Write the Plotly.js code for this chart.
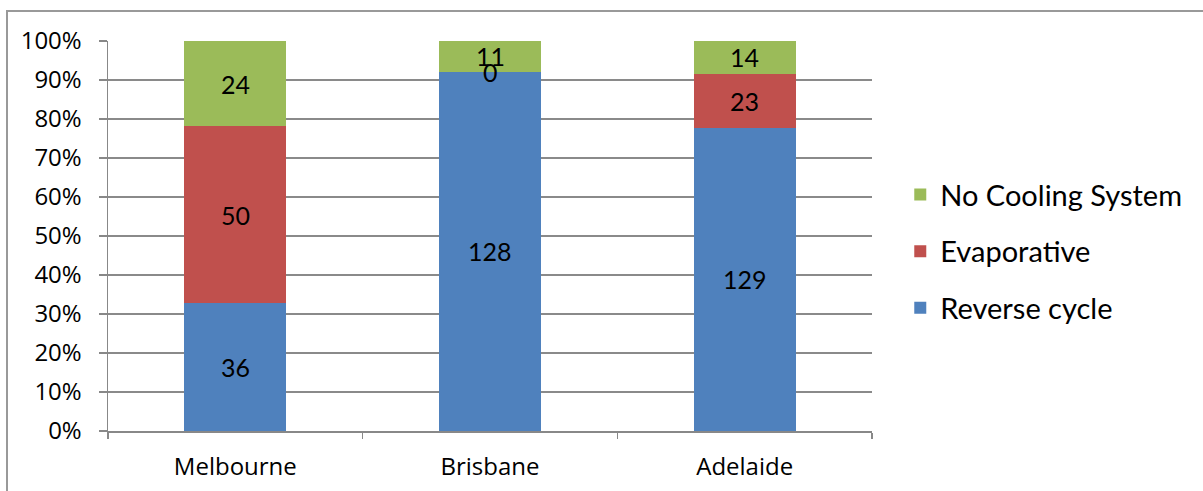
<!DOCTYPE html>
<html><head><meta charset="utf-8">
<script src="https://cdn.plot.ly/plotly-3.0.1.min.js"></script>
<style>
html,body{margin:0;padding:0;background:#fff;}
#frame{position:absolute;left:6px;top:10px;width:1300px;height:600px;border-left:2px solid #999;border-top:2px solid #999;}
#chart{position:absolute;left:0;top:0;width:1203px;height:491px;}
</style></head>
<body>
<div id="frame"></div>
<div id="chart"></div>
<script>
const cities = ["Melbourne", "Brisbane", "Adelaide"];
const reverseCycle = [36, 128, 129];
const evaporative = [50, 0, 23];
const noCooling = [24, 11, 14];
const seriesNames = ["Reverse cycle", "Evaporative", "No Cooling System"];
const seriesColors = ["#4F81BD", "#C0504D", "#9BBB59"];
const yTicks = [0,10,20,30,40,50,60,70,80,90,100];

const series = [reverseCycle, evaporative, noCooling];
const traces = series.map((vals, i) => ({
  type: "bar", x: cities, y: vals, name: seriesNames[i],
  marker: {color: seriesColors[i], line: {width: 0}},
  legendgroup: "g" + i, legendrank: 3 - i, hoverinfo: "skip"
}));

const totals = cities.map((c, j) => series.reduce((s, v) => s + v[j], 0));
const annotations = [];
cities.forEach((c, j) => {
  let cum = 0;
  series.forEach((vals) => {
    const share = vals[j] / totals[j] * 100;
    annotations.push({x: c, y: cum + share / 2, text: String(vals[j]), showarrow: false,
      xref: "x", yref: "y", font: {family: "Lato, sans-serif", size: 25, color: "#000"}});
    cum += share;
  });
});

const layout = {
  width: 1203, height: 491,
  margin: {l: 108, r: 331, t: 41, b: 60},
  paper_bgcolor: "rgba(0,0,0,0)", plot_bgcolor: "rgba(0,0,0,0)",
  barmode: "stack", barnorm: "percent", bargap: 0.6,
  showlegend: true,
  legend: {x: 1.037, xanchor: "left", y: 0.46, yanchor: "middle", traceorder: "grouped",
    tracegroupgap: 16, font: {family: "Lato, sans-serif", size: 29, color: "#000"}, itemwidth: 30},
  xaxis: {type: "category", showline: true, linecolor: "#888", linewidth: 1.5,
    ticks: "outside", tickson: "boundaries", ticklen: 6, tickcolor: "#888", tickwidth: 1.5,
    ticklabelstandoff: 14,
    tickfont: {family: "Open Sans, sans-serif", size: 24, color: "#000"}, showgrid: false, zeroline: false},
  yaxis: {range: [0, 100], tickvals: yTicks, ticktext: yTicks.map(v => v + "%"),
    showgrid: true, gridcolor: "#8a8a8a", gridwidth: 1.5,
    showline: true, linecolor: "#888", linewidth: 1.5, ticks: "outside", ticklen: 8, tickcolor: "#888", tickwidth: 1.5,
    ticklabelstandoff: 12,
    tickfont: {family: "Open Sans, sans-serif", size: 24, color: "#000"}, zeroline: false},
  annotations: annotations
};
Plotly.newPlot("chart", traces, layout, {displayModeBar: false, staticPlot: true});
</script>
</body></html>
